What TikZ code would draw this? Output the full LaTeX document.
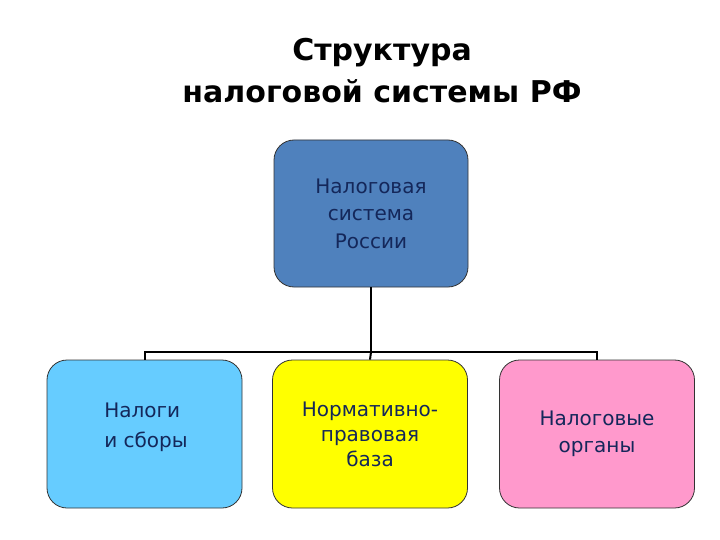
\documentclass[tikz,border=0pt]{standalone}
\usepackage{fontspec}
\setmainfont{DejaVu Sans}
\definecolor{topblue}{HTML}{4F81BD}
\definecolor{skyb}{HTML}{66CCFF}
\definecolor{yel}{HTML}{FFFF00}
\definecolor{pinkb}{HTML}{FF99CC}
\definecolor{navy}{HTML}{14275A}
\begin{document}
\begin{tikzpicture}[x=1pt,y=-1pt,
  box/.style={draw=black!80, line width=0.8pt, rounded corners=20pt, minimum width=195pt, minimum height=148pt, inner sep=0pt, text=navy, font=\fontsize{20}{26}\selectfont, align=center},
  conn/.style={line width=2pt, black}]
\useasboundingbox (0,0) rectangle (720,540);
\node[font=\fontsize{30}{42}\selectfont\bfseries, align=center] (title) at (382,71) {Структура\\налоговой системы РФ};
\node[box, fill=topblue, minimum width=194pt, minimum height=147pt, font=\fontsize{20}{27.5}\selectfont] (top) at (371,213.5) {Налоговая\\система\\России};
\node[box, fill=skyb] (a) at (144.5,434) {};
\node[font=\fontsize{20}{30}\selectfont, text=navy, align=left] (ta) at (146,427) {Налоги\\и сборы};
\node[box, fill=yel, font=\fontsize{20}{25}\selectfont] (b) at (370,434) {Нормативно-\\правовая\\база};
\node[box, fill=pinkb, font=\fontsize{20}{27}\selectfont] (c) at (597,434) {Налоговые\\органы};
\coordinate (j) at (371,352);
\draw[conn] (top.south) -- (j);
\draw[conn] (a.north) |- (j) -| (c.north);
\draw[conn] (j) -- (b.north);
\end{tikzpicture}
\end{document}
